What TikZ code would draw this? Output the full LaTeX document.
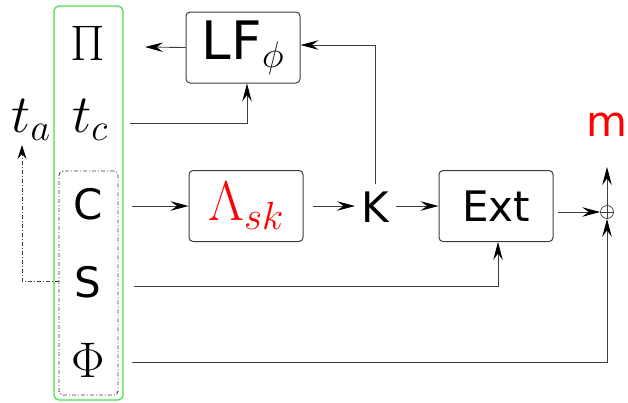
\RequirePackage{fix-cm}
\documentclass[tikz,border=0pt]{standalone}
\usepackage{fontspec}
\setsansfont{DejaVu Sans}
\usetikzlibrary{arrows.meta}
\definecolor{grn}{RGB}{70,225,70}
\definecolor{ln}{RGB}{60,60,60}
\newcommand\mathsz{\fontsize{50}{55}\selectfont}
\newcommand\tsz{\fontsize{54}{58}\selectfont}
\newcommand\lamsz{\fontsize{56}{60}\selectfont}
\newcommand\sanssz{\sffamily\fontsize{42}{46}\selectfont}
\newcommand\lfsz{\sffamily\fontsize{53}{57}\selectfont}
\begin{document}
\begin{tikzpicture}[x=1pt,y=-1pt,
  txt/.style={inner sep=0pt, anchor=center},
  blk/.style={draw=ln, rounded corners=4pt, line width=1pt, minimum width=114pt, minimum height=71pt, inner sep=0pt},
  tip/.tip={Stealth[length=18pt,width=9.5pt,inset=6.5pt,color=black]},
  arr/.style={draw=ln, line width=0.9pt, -tip},
  dda/.style={draw=ln, line width=0.9pt, dash pattern=on 4pt off 2pt on 1pt off 2pt, -{Stealth[length=14pt,width=9pt,inset=5pt,color=black]}}
]
\useasboundingbox (0,0) rectangle (628,402);
% group boxes
\node[draw=grn, line width=1.2pt, rounded corners=5pt, minimum width=69pt, minimum height=394pt, inner sep=0pt] (grp) at (88.5,203) {};
\node[draw=ln, line width=0.9pt, dash pattern=on 4pt off 2pt on 1pt off 2pt, rounded corners=4pt, minimum width=59pt, minimum height=224pt, inner sep=0pt] (inner) at (88.5,283) {};
% column labels
\node[txt] (pi) at (88,43) {\mathsz$\Pi$};
\node[txt] (tc) at (90,120) {\tsz$t_c$};
\node[txt] (ta) at (31,120) {\tsz$t_a$};
\node[txt] (c) at (88,204) {\sanssz C};
\node[txt] (s) at (88,282) {\sanssz S};
\node[txt] (phi) at (88,360) {\mathsz$\Phi$};
% blocks
\node[blk] (lf) at (243,47.5) {\lfsz LF$_\phi$};
\node[blk] (lam) at (246,206) {\lamsz\color{red}$\Lambda_{sk}$};
\node[blk] (ext) at (496,206) {\sanssz Ext};
\node[txt, inner sep=7pt] (k) at (375,207) {\sanssz K};
\node[draw=ln, line width=0.7pt, circle, minimum size=13pt, inner sep=0pt] (op) at (607,212) {};
\draw[ln, line width=0.6pt] (op.north) -- (op.south) (op.west) -- (op.east);
\node[txt, inner sep=4pt] (m) at (607,125) {\sanssz\color{red} m};
% free-end coordinates
\coordinate (piin) at (145,47);
\coordinate (tcout) at (130,123);
\coordinate (cout) at (132,206);
\coordinate (sout) at (134,286);
\coordinate (phiout) at (132,362);
\coordinate (tain) at (22,145);
\coordinate (kin) at (355,206);
\coordinate (kout) at (396,206);
% connectors
\draw[arr] (lf.west) -- (piin);
\draw[arr] (tcout) -| ([xshift=4pt]lf.south);
\draw[arr] (k.north) |- ([yshift=2.5pt]lf.east);
\draw[arr] (cout) -- (lam.west);
\draw[arr] ([xshift=9pt]lam.east) -- (kin);
\draw[arr] (kout) -- (ext.west);
\draw[arr] ([xshift=4pt]ext.east |- op) -- (op.west);
\draw[arr] (op.north) -- ([yshift=-26pt]m.south);
\draw[arr] (sout) -| ([xshift=2pt]ext.south);
\draw[arr] (phiout) -| (op.south);
\draw[dda] (inner.west |- 0,281) -| (tain);
\end{tikzpicture}
\end{document}
